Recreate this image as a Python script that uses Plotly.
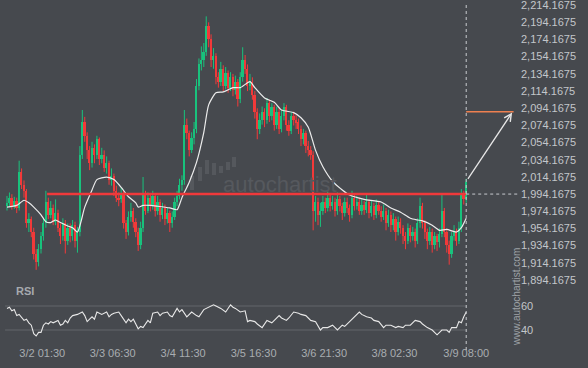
import plotly.graph_objects as go

# ---------------- data ----------------
first_open = 1980
closes = [
    1984, 1990, 1980, 1986, 1978, 2020, 2005, 1998, 1960, 1965,
    1950, 1925, 1915, 1930, 1945, 1960, 1985, 1970, 1978, 1962,
    1972, 1955, 1945, 1960, 1940, 1955, 1945, 1958, 1940, 1950,
    2040, 2078, 2062, 2045, 2030, 2048, 2040, 2058, 2035, 2040,
    2025, 2030, 2010, 2015, 1998, 1990, 1988, 1995, 1960, 1950,
    1968, 1975, 1962, 1950, 1935, 1955, 1995, 1975, 1990, 1980,
    1992, 1975, 1985, 1970, 1978, 1965, 1972, 1960, 1968, 1985,
    1992, 2005, 2010, 2075, 2065, 2045, 2060, 2070, 2120, 2145,
    2150, 2160, 2190, 2175, 2150, 2155, 2130, 2125, 2140, 2120,
    2135, 2118, 2130, 2115, 2125, 2105, 2130, 2150, 2140, 2120,
    2125, 2110, 2090, 2070, 2080, 2090, 2080, 2100, 2085, 2095,
    2075, 2090, 2070, 2085, 2095, 2075, 2068, 2085, 2080, 2078,
    2070, 2058, 2065, 2050, 2045, 2040, 1975, 1985, 1970, 1975,
    1985, 1978, 1990, 1980, 1985, 1975, 1988, 1980, 1972, 1985,
    1978, 1970, 1990, 1980, 1985, 1975, 1982, 1976, 1985, 1972,
    1980, 1970, 1982, 1975, 1968, 1975, 1960, 1970, 1958, 1965,
    1950, 1962, 1955, 1945, 1940, 1955, 1945, 1950, 1940, 1960,
    1980, 1960, 1950, 1940, 1950, 1935, 1945, 1938, 1948, 1975,
    1950, 1935, 1925, 1945, 1950, 1940, 1955, 1995, 1988, 2008,
]
highs = [
    1992, 1996, 1994, 1991, 1990, 2033, 2024, 2010, 2000, 1972,
    1968, 1955, 1930, 1936, 1950, 1966, 1998, 1990, 1986, 1982,
    1988, 1976, 1960, 1966, 1964, 1960, 1960, 1964, 1962, 1956,
    2050, 2092, 2084, 2066, 2050, 2055, 2052, 2062, 2060, 2048,
    2045, 2038, 2033, 2024, 2018, 2004, 1996, 2002, 1998, 1964,
    1974, 1984, 1978, 1966, 1955, 1962, 2014, 1998, 1996, 1994,
    1998, 1995, 1992, 1988, 1984, 1982, 1978, 1975, 1974, 1990,
    1998, 2012, 2016, 2092, 2082, 2068, 2066, 2078, 2128, 2152,
    2166, 2170, 2201, 2194, 2180, 2164, 2158, 2136, 2148, 2144,
    2142, 2138, 2136, 2134, 2132, 2128, 2136, 2165, 2156, 2145,
    2134, 2130, 2114, 2094, 2088, 2096, 2094, 2106, 2104, 2100,
    2098, 2096, 2094, 2092, 2100, 2098, 2080, 2090, 2090, 2086,
    2082, 2074, 2070, 2068, 2056, 2050, 2044, 1992, 1990, 1984,
    1992, 1990, 1997, 1994, 1992, 1990, 1996, 1992, 1984, 1990,
    1990, 1982, 1998, 1994, 1992, 1990, 1988, 1986, 1994, 1988,
    1986, 1984, 1988, 1986, 1980, 1982, 1978, 1976, 1974, 1972,
    1968, 1968, 1966, 1958, 1950, 1960, 1958, 1956, 1954, 1966,
    1990, 1984, 1964, 1954, 1956, 1954, 1950, 1948, 1954, 1993,
    1978, 1954, 1940, 1950, 1958, 1954, 1962, 2000, 1998, 2012,
]
lows = [
    1975, 1980, 1976, 1977, 1972, 1975, 2000, 1990, 1955, 1950,
    1944, 1918, 1906, 1910, 1925, 1940, 1955, 1965, 1966, 1958,
    1958, 1950, 1936, 1940, 1925, 1935, 1938, 1940, 1932, 1926,
    1945, 2035, 2055, 2035, 2022, 2025, 2030, 2035, 2028, 2030,
    2020, 2018, 2005, 2004, 1992, 1985, 1980, 1984, 1954, 1942,
    1946, 1962, 1955, 1944, 1928, 1930, 1950, 1970, 1972, 1974,
    1976, 1968, 1970, 1962, 1965, 1958, 1960, 1950, 1955, 1964,
    1980, 1988, 1998, 2005, 2058, 2038, 2042, 2052, 2065, 2115,
    2138, 2142, 2155, 2165, 2142, 2140, 2122, 2118, 2120, 2114,
    2116, 2112, 2114, 2108, 2110, 2096, 2100, 2125, 2134, 2114,
    2115, 2104, 2082, 2058, 2064, 2075, 2072, 2076, 2078, 2080,
    2068, 2070, 2064, 2066, 2080, 2068, 2062, 2064, 2074, 2070,
    2064, 2050, 2052, 2042, 2038, 2034, 1952, 1962, 1958, 1956,
    1970, 1972, 1974, 1974, 1976, 1968, 1970, 1974, 1964, 1968,
    1972, 1962, 1966, 1975, 1976, 1970, 1970, 1970, 1972, 1966,
    1968, 1964, 1966, 1970, 1962, 1964, 1952, 1956, 1950, 1952,
    1940, 1946, 1948, 1936, 1930, 1936, 1938, 1940, 1932, 1936,
    1955, 1954, 1942, 1930, 1935, 1926, 1930, 1928, 1932, 1944,
    1944, 1926, 1912, 1920, 1940, 1934, 1936, 1950, 1982, 1984,
]

# moving average, index -> value
ma_idx = [0, 4, 7, 9, 11, 14, 16, 18, 20, 22, 25, 27, 29, 32, 35, 37, 41, 44, 47,
          50, 53, 54, 56, 59, 62, 67, 70, 72, 75, 78, 81, 83, 86, 89, 93, 96, 100,
          102, 106, 110, 113, 118, 121, 124, 127, 130, 134, 138, 141, 147, 154,
          158, 162, 166, 169, 171, 175, 178, 181, 185, 187, 189]
ma_vals = [1979, 1981, 1987, 1984, 1979, 1970, 1962, 1961, 1964, 1961, 1957, 1955,
           1950, 1979, 1999, 2011, 2014, 2011, 2002, 1991, 1984, 1979, 1981, 1981,
           1980, 1978, 1976, 1990, 2008, 2031, 2066, 2098, 2112, 2113, 2118, 2118,
           2125, 2118, 2106, 2101, 2092, 2089, 2083, 2072, 2045, 2026, 2009, 1999,
           1993, 1988, 1985, 1978, 1973, 1966, 1964, 1963, 1958, 1952, 1953, 1950,
           1955, 1966]

# RSI
rsi_idx = [0, 1, 2, 3, 4, 5, 7, 8, 9, 10, 11, 12, 13, 14, 15, 16, 17, 18, 19, 21,
           22, 23, 24, 25, 26, 27, 29, 31, 32, 33, 34, 35, 36, 37, 39, 41, 42, 43,
           44, 46, 47, 49, 50, 51, 52, 54, 55, 56, 58, 59, 60, 62, 63, 64, 66, 67,
           68, 70, 71, 72, 74, 75, 76, 78, 79, 81, 83, 85, 86, 88, 90, 91, 92, 93,
           94, 96, 98, 99, 100, 102, 103, 105, 107, 109, 110, 112, 113, 115, 116,
           118, 120, 121, 123, 125, 127, 129, 130, 132, 134, 136, 138, 139, 141,
           143, 145, 146, 148, 150, 151, 153, 155, 156, 158, 160, 161, 163, 164,
           166, 168, 170, 171, 173, 175, 177, 178, 179, 181, 182, 183, 185, 186,
           187, 188, 189]
rsi_vals = [58, 59, 56, 57, 52, 53, 48, 49, 46, 44, 37, 35, 38, 38, 44, 46, 45, 47,
            46, 48, 44, 45, 48, 46, 50, 52, 53, 55, 52, 47, 49, 51, 49, 55, 53, 55,
            51, 53, 54, 55, 52, 46, 49, 47, 49, 41, 43, 42, 48, 46, 54, 55, 52, 54,
            55, 52, 51, 58, 55, 57, 51, 53, 55, 52, 51, 57, 59, 61, 60, 58, 55, 58,
            61, 59, 58, 55, 56, 47, 48, 47, 45, 42, 48, 46, 48, 52, 50, 48, 50, 55,
            54, 53, 52, 48, 47, 40, 42, 42, 44, 40, 44, 43, 47, 51, 55, 53, 51, 50,
            48, 47, 42, 44, 44, 42, 43, 42, 44, 44, 48, 47, 45, 42, 40, 36, 38, 40,
            40, 38, 42, 42, 47, 46, 51, 55]

tick_pos = [14.5, 43.5, 72.5, 101.5, 130.5, 159.5, 189]
tick_text = ["3/2 01:30", "3/3 06:30", "3/4 11:30", "3/5 16:30",
             "3/6 21:30", "3/8 02:30", "3/9 08:00"]
price_ticks = [1894.1675 + 20 * k for k in range(17)]
rsi_ticks = [40, 60]

level = 1994.1675
level_start = 16.5
target = 2090
arrow_start = (189.3, 2010)
arrow_end = (207.9, 2089)

# ---------------- styling ----------------
BG = "#46494e"
GREEN = "#19c27d"
RED = "#f23a3a"
TXT = "#c3c6ca"

n = len(closes)
idx = list(range(n))
opens = [first_open] + closes[:-1]

up = [c >= o for o, c in zip(opens, closes)]
body_base = [min(o, c) for o, c in zip(opens, closes)]
body_h = [max(abs(c - o), 0.8) for o, c in zip(opens, closes)]
body_col = [GREEN if u else RED for u in up]

fig = go.Figure()
fig.add_trace(go.Bar(x=idx, y=body_h, base=body_base, marker_color=body_col,
                     marker_line_width=0, width=0.72, xaxis="x", yaxis="y",
                     hoverinfo="skip"))
for flag, col in ((True, GREEN), (False, RED)):
    wx, wy = [], []
    for i in idx:
        if up[i] == flag:
            wx += [i, i, None]
            wy += [lows[i], highs[i], None]
    fig.add_trace(go.Scatter(x=wx, y=wy, mode="lines", line=dict(color=col, width=1),
                             xaxis="x", yaxis="y", hoverinfo="skip"))

fig.add_trace(go.Scatter(x=ma_idx, y=ma_vals, mode="lines",
                         line=dict(color="#ececec", width=1.2, shape="spline", smoothing=0.6),
                         xaxis="x", yaxis="y", hoverinfo="skip"))
fig.add_trace(go.Scatter(x=rsi_idx, y=rsi_vals, mode="lines",
                         line=dict(color="#e8e8e8", width=1.1),
                         xaxis="x", yaxis="y2", hoverinfo="skip"))

last = n - 1
shapes = [
    dict(type="line", xref="x", yref="y", x0=level_start, x1=last, y0=level, y1=level,
         line=dict(color="#f0393b", width=2.5), layer="above"),
    dict(type="line", xref="x", yref="y", x0=last, x1=211, y0=level, y1=level,
         line=dict(color="#c8cbce", width=1, dash="3px,3px")),
    dict(type="line", xref="x", yref="y", x0=last, x1=208.5, y0=target, y1=target,
         line=dict(color="#ee8050", width=1.5)),
    dict(type="line", xref="x", yref="paper", x0=last, x1=last, y0=-0.0145, y1=0.9855,
         line=dict(color="#c8cbce", width=1, dash="3px,3px")),
]
for v in rsi_ticks:
    shapes.append(dict(type="line", xref="x", yref="y2", x0=-0.8, x1=last, y0=v, y1=v,
                       line=dict(color="#62666b", width=1), layer="below"))

# faint watermark logo bars (pixel positions converted to paper)
def px(xp):
    return (xp - 5) / 515.0
def py(yp):
    return 1 - yp / 345.0
for (x0, x1, y0, y1) in [(190, 194, 176, 190), (198, 202, 167, 181), (205, 209, 160, 174),
                         (212, 216, 163, 175), (219, 223, 166, 173), (226, 230, 162, 170),
                         (232, 236, 157, 167)]:
    shapes.append(dict(type="rect", xref="paper", yref="paper", x0=px(x0), x1=px(x1),
                       y0=py(y1), y1=py(y0), fillcolor="#55585d", line=dict(width=0),
                       layer="below"))

annotations = [
    dict(x=arrow_end[0], y=arrow_end[1], ax=arrow_start[0], ay=arrow_start[1],
         xref="x", yref="y", axref="x", ayref="y", showarrow=True, arrowhead=5,
         arrowsize=1.1, arrowwidth=1.3, arrowcolor="#e6e6e6", text=""),
    dict(text="RSI", xref="paper", yref="paper", x=px(14), y=py(291), xanchor="left",
         yanchor="middle", showarrow=False,
         font=dict(family="Liberation Sans", size=11, color="#a6aaae", weight="bold")),
    dict(text="autochartist", xref="paper", yref="paper", x=px(280), y=py(184),
         xanchor="center", yanchor="middle", showarrow=False,
         font=dict(family="Liberation Sans", size=22, color="#56595e")),
    dict(text="www.autochartist.com", xref="paper", yref="paper", x=px(516), y=py(297),
         xanchor="center", yanchor="middle", showarrow=False, textangle=-90,
         font=dict(family="Liberation Sans", size=10, color="#9ea2a6")),
]

fig.update_layout(
    width=588, height=368,
    margin=dict(l=5, r=68, t=0, b=23, autoexpand=False),
    paper_bgcolor=BG, plot_bgcolor=BG,
    showlegend=False, barmode="overlay", bargap=0,
    font=dict(family="Liberation Sans", size=11, color=TXT),
    xaxis=dict(domain=[0, 1], range=[-0.823, 211.14], anchor="y2", automargin=False,
               tickvals=tick_pos, ticktext=tick_text, showgrid=False, zeroline=False,
               showline=False, ticks="", tickfont=dict(size=11, color="#a9adb1")),
    yaxis=dict(domain=[0.1739, 1], range=[1888.35, 2220.0], anchor="x", side="right",
               automargin=False, ticklabeloverflow="allow",
               tickvals=price_ticks, tickformat=",.4f", showgrid=False, zeroline=False,
               showline=False, ticks="", tickfont=dict(size=11, color=TXT)),
    yaxis2=dict(domain=[0, 0.1739], range=[27.5, 77.5], anchor="x", side="right",
                automargin=False, ticklabeloverflow="allow",
                tickvals=rsi_ticks, showgrid=False, zeroline=False, showline=False,
                ticks="", tickfont=dict(size=11, color=TXT)),
    shapes=shapes, annotations=annotations,
)

fig.write_html("out.html",
               config={"displayModeBar": False},
               post_script="document.body.style.margin='0';"
                           "document.body.style.background='%s';" % BG)
